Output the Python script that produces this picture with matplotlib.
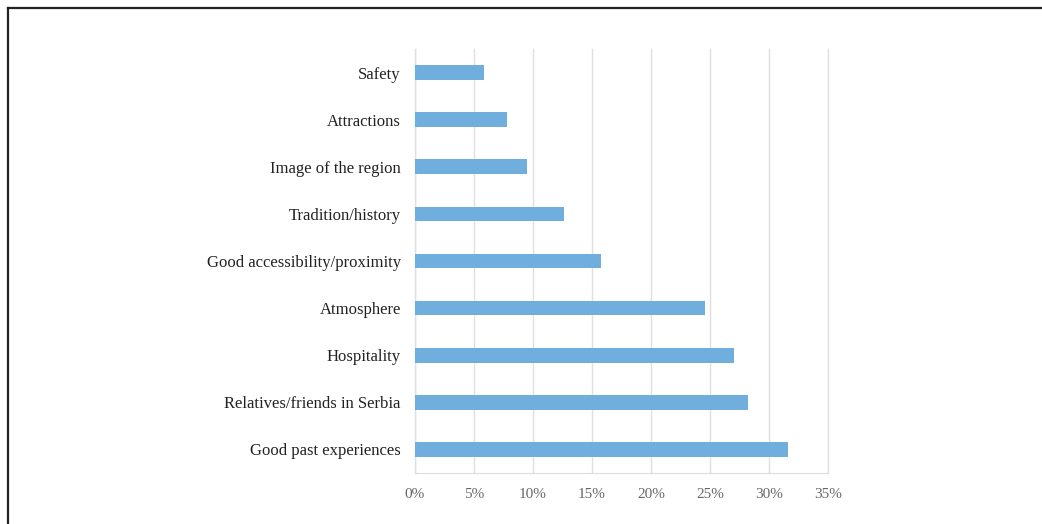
import matplotlib.pyplot as plt
from matplotlib.lines import Line2D
from matplotlib.ticker import FuncFormatter


CATEGORIES = ['Good past experiences', 'Relatives/friends in Serbia', 'Hospitality',
              'Atmosphere', 'Good accessibility/proximity', 'Tradition/history',
              'Image of the region', 'Attractions', 'Safety']
SHARES = [31.6, 28.2, 27.0, 24.6, 15.8, 12.6, 9.5, 7.8, 5.85]
X_TICKS = [0, 5, 10, 15, 20, 25, 30, 35]

plt.rcParams['font.family'] = ['Liberation Serif', 'DejaVu Serif']

fig = plt.figure(figsize=(10.42, 5.24), dpi=100)
ax = fig.add_axes([0.398, 0.0973, 0.397, 0.8092])

ax.barh(range(len(CATEGORIES)), SHARES, height=0.31, color='#6FAEDD', zorder=2)

ax.set_xlim(0, 35)
ax.set_ylim(-0.5, len(CATEGORIES) - 0.5)
ax.set_xticks(X_TICKS)
ax.xaxis.set_major_formatter(FuncFormatter(lambda v, p: '%d%%' % v))
ax.set_yticks(range(len(CATEGORIES)))
ax.set_yticklabels(CATEGORIES)

ax.grid(True, axis='x', color='#E0E0E0', linewidth=1, zorder=0)
for line in ax.get_xgridlines():
	line.set_clip_on(False)
for side in ['top', 'right', 'left']:
	ax.spines[side].set_visible(False)
ax.spines['bottom'].set_color('#DCDCDC')
ax.axvline(0, color='#DCDCDC', linewidth=1, zorder=1)

ax.tick_params(axis='y', length=0, pad=10, labelsize=12, labelcolor='#222222')
ax.tick_params(axis='x', length=0, pad=11, labelsize=11, labelcolor='#666666')

# frame lines on the left and top edge of the picture
fig.add_artist(Line2D([0.0072, 0.0072], [0.0, 0.985], transform=fig.transFigure,
                      color='#222222', linewidth=1.6))
fig.add_artist(Line2D([0.0072, 1.0], [0.985, 0.985], transform=fig.transFigure,
                      color='#222222', linewidth=1.6))

fig.savefig('out.png', dpi=100)
